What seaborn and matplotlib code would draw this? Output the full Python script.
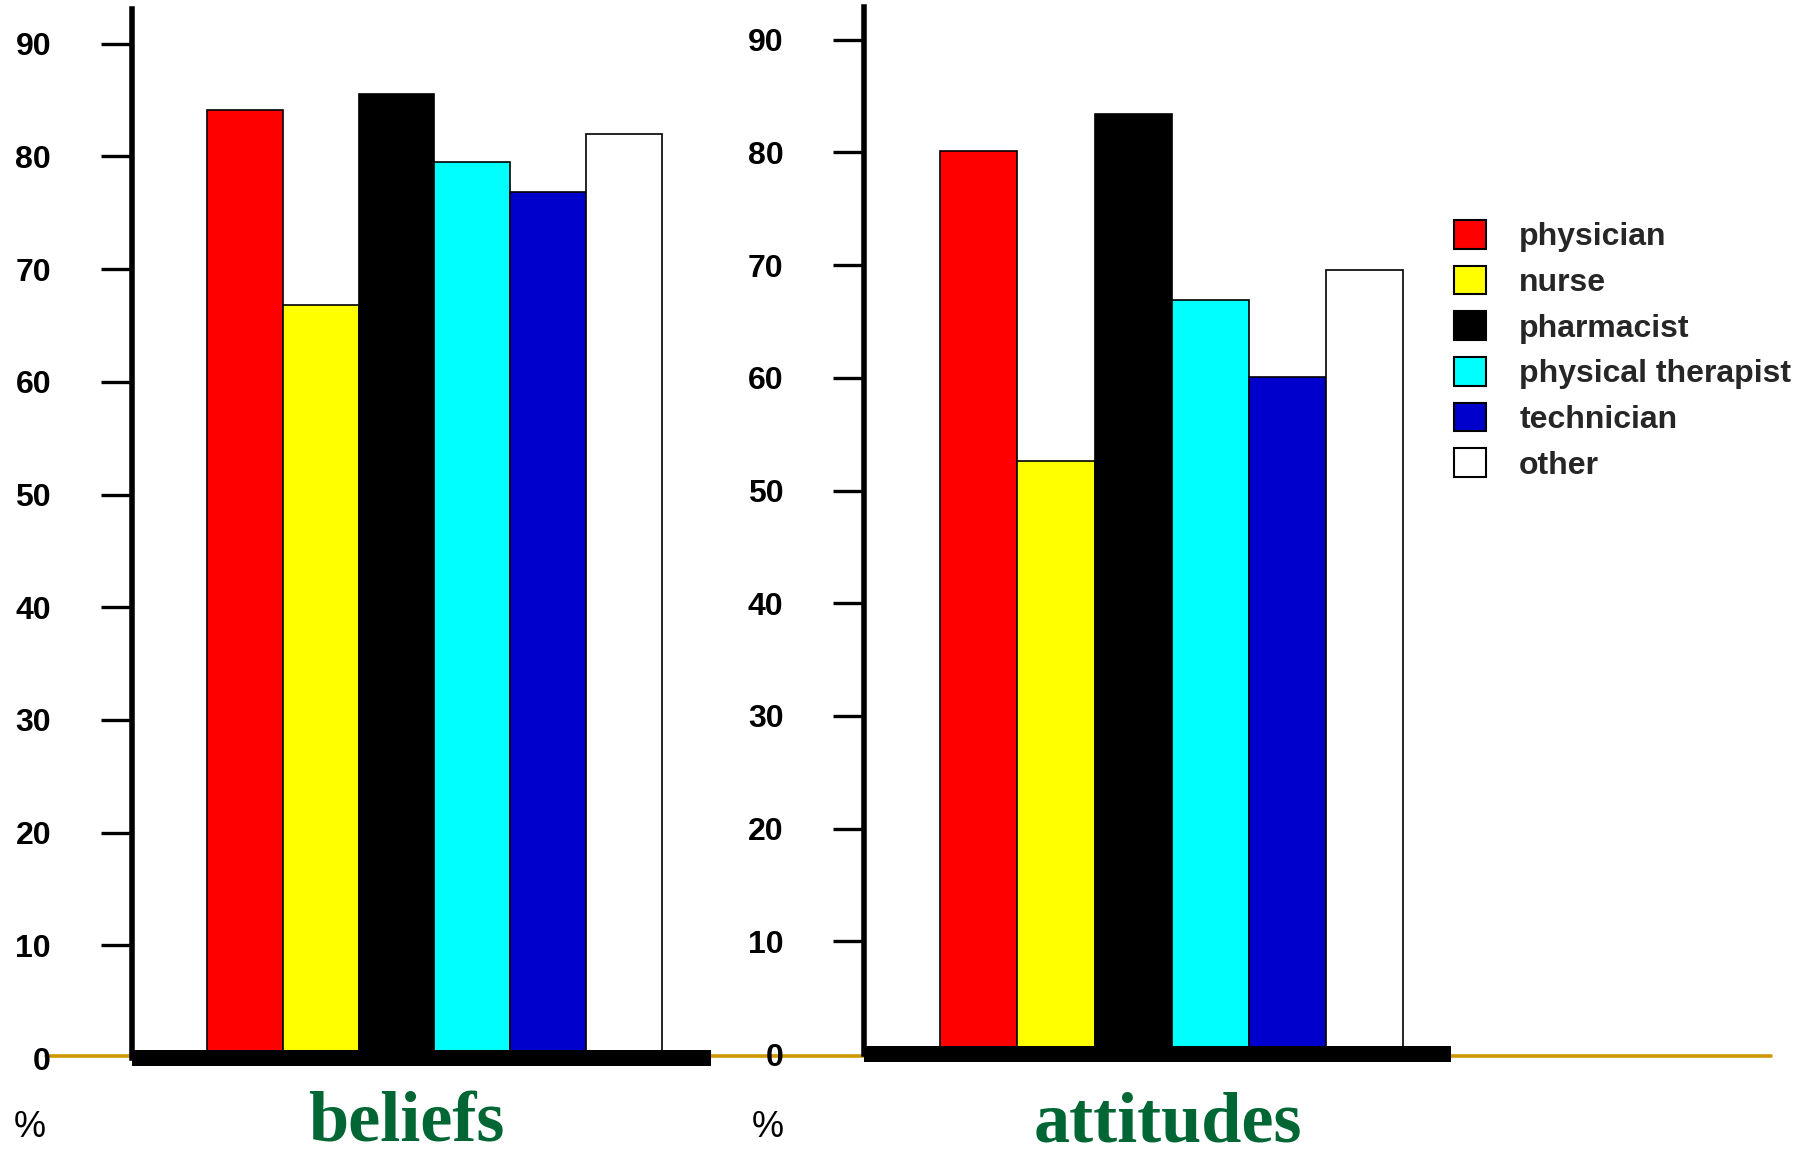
import matplotlib
matplotlib.use("Agg")
import matplotlib.pyplot as plt
from matplotlib.lines import Line2D
from matplotlib.patches import Patch
import pandas as pd
import seaborn as sns

# data (% of respondents)
professions = ["physician", "nurse", "pharmacist", "physical therapist", "technician", "other"]
beliefs = [84.1, 66.8, 85.5, 79.5, 76.8, 82.0]
attitudes = [80.1, 52.6, 83.4, 66.9, 60.1, 69.6]
bar_colors = ["#FF0000", "#FFFF00", "#000000", "#00FFFF", "#0000CC", "#FFFFFF"]
yticks = [0, 10, 20, 30, 40, 50, 60, 70, 80, 90]
panel_names = ["beliefs", "attitudes"]

sns.set_theme(style="white")
plt.rcParams["font.family"] = ["Liberation Sans", "DejaVu Sans"]

df = pd.DataFrame(
    {
        "measure": ["beliefs"] * len(professions) + ["attitudes"] * len(professions),
        "profession": professions * 2,
        "value": beliefs + attitudes,
    }
)
palette = dict(zip(professions, bar_colors))

W, H = 1812, 1155
fig = plt.figure(figsize=(W / 100, H / 100), dpi=100)

# gold baseline running across the whole slide
fig.add_artist(Line2D([46 / W, 1771 / W], [1 - 1055.7 / H] * 2,
                      color="#CC9900", lw=2.6, zorder=-1))

# panel geometry in pixels: spine x, right end x, zero y, top y, xlim
panels = [
    dict(name="beliefs", x0=131.6, x1=710.7, y0=1058, ytop=9.3, xlim=(-1.49, 6.14),
         word_x=406, pct_x=30),
    dict(name="attitudes", x0=864.0, x1=1451.0, y0=1054, ytop=6.7, xlim=(-1.49, 6.12),
         word_x=1168, pct_x=768),
]

for p in panels:
    ax = fig.add_axes([p["x0"] / W, 1 - p["y0"] / H,
                       (p["x1"] - p["x0"]) / W, (p["y0"] - p["ytop"]) / H])
    ax.patch.set_alpha(0)
    sub = df[df["measure"] == p["name"]]
    sns.barplot(
        data=sub, x="profession", y="value", hue="profession",
        order=professions, hue_order=professions, palette=palette,
        saturation=1, width=1.0, edgecolor="black", linewidth=1.2,
        errorbar=None, legend=False, ax=ax,
    )
    ax.set_xlim(*p["xlim"])
    ax.set_ylim(0, (p["y0"] - p["ytop"]) / 11.27)
    ax.set_xlabel("")
    ax.set_ylabel("")

    for side in ["top", "right"]:
        ax.spines[side].set_visible(False)
    ax.spines["left"].set_linewidth(4)
    ax.spines["left"].set_color("black")
    ax.spines["bottom"].set_linewidth(11.5)
    ax.spines["bottom"].set_color("black")
    ax.spines["bottom"].set_capstyle("butt")

    ax.set_yticks(yticks)
    ax.set_yticklabels([str(v) for v in yticks], fontweight="bold")
    ax.tick_params(axis="y", left=True, direction="out", length=22, width=2.4,
                   pad=36, labelsize=23, color="black", labelcolor="black")
    ax.tick_params(axis="x", bottom=False, labelbottom=False)
    ax.yaxis.get_major_ticks()[0].tick1line.set_visible(False)

    fig.text(p["word_x"] / W, 1 - 1141 / H, p["name"], ha="center", va="baseline",
             fontsize=52, fontweight="bold", family=["Liberation Serif", "DejaVu Serif"],
             color="#006633")
    fig.text(p["pct_x"] / W, 1 - 1137 / H, "%", ha="center", va="baseline",
             fontsize=26, color="black")

handles = [Patch(facecolor=c, edgecolor="black", linewidth=1.5) for c in bar_colors]
fig.legend(
    handles, professions, loc="upper left",
    bbox_to_anchor=(1453.7 / W, 1 - 220 / H),
    frameon=False, prop={"size": 23, "weight": "bold"},
    handlelength=1.0, handleheight=1.0, handletextpad=1.05,
    labelspacing=0.42, borderpad=0, borderaxespad=0,
)

fig.savefig("out.png", dpi=100)
